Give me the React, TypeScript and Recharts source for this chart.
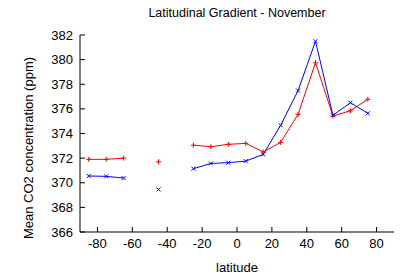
import React from 'react';
import { LineChart, Line, XAxis, YAxis } from 'recharts';

const latitudes = [-85, -75, -65, -55, -45, -35, -25, -15, -5, 5, 15, 25, 35, 45, 55, 65, 75];
const redSeries = [371.9, 371.9, 372.0, null, 371.7, null, 373.05, 372.93, 373.12, 373.2, 372.5, 373.28, 375.55, 379.75, 375.42, 375.85, 376.78];
const blueSeries = [370.55, 370.52, 370.38, null, 369.46, null, 371.14, 371.57, 371.63, 371.76, 372.3, 374.66, 377.48, 381.49, 375.48, 376.5, 375.64];
const xTicks = [-80, -60, -40, -20, 0, 20, 40, 60, 80];
const yTicks = [366, 368, 370, 372, 374, 376, 378, 380, 382];

const data = latitudes.map((lat, i) => ({ lat, red: redSeries[i], blue: blueSeries[i] }));

const FONT = '"Liberation Sans", Arial, sans-serif';

const PlusDot = (props: any) => {
  const { cx, cy, value } = props;
  if (value == null || cx == null || cy == null) return null;
  return (
    <path d={`M${cx - 2.5},${cy}H${cx + 2.5}M${cx},${cy - 2.5}V${cy + 2.5}`} stroke="#ff0000" strokeWidth={1} fill="none" />
  );
};

const CrossDot = (props: any) => {
  const { cx, cy, value } = props;
  if (value == null || cx == null || cy == null) return null;
  return (
    <path d={`M${cx - 2},${cy - 2}L${cx + 2},${cy + 2}M${cx - 2},${cy + 2}L${cx + 2},${cy - 2}`} stroke="#0000ff" strokeWidth={1} fill="none" />
  );
};

export default function App() {
  const tickStyle = { fill: '#000', fontSize: 13, fontFamily: FONT };
  return (
    <div style={{ position: 'absolute', left: 0, top: 0, width: 407, height: 279, background: '#fff', fontFamily: FONT }}>
      <LineChart width={407} height={279} data={data} margin={{ top: 35, right: 13, left: 30, bottom: 17 }}>
        <XAxis
          xAxisId="b"
          dataKey="lat"
          type="number"
          domain={[-90, 90]}
          ticks={xTicks}
          orientation="bottom"
          height={30}
          stroke="#000"
          tickSize={-5}
          tickMargin={12}
          tick={tickStyle}
          interval={0}
        />
        <XAxis
          xAxisId="t"
          dataKey="lat"
          type="number"
          domain={[-90, 90]}
          ticks={xTicks}
          orientation="top"
          height={0}
          stroke="#000"
          tickSize={-5}
          tick={false}
          interval={0}
        />
        <YAxis
          yAxisId="l"
          type="number"
          domain={[366, 382]}
          ticks={yTicks}
          orientation="left"
          width={50}
          stroke="#000"
          tickSize={-5}
          tickMargin={12}
          tick={tickStyle}
          interval={0}
        />
        <YAxis
          yAxisId="r"
          type="number"
          domain={[366, 382]}
          ticks={yTicks}
          orientation="right"
          width={0}
          stroke="#000"
          tickSize={-5}
          tick={false}
          interval={0}
        />
        <Line
          xAxisId="b"
          yAxisId="l"
          dataKey="red"
          stroke="#ff0000"
          strokeWidth={1}
          dot={<PlusDot />}
          activeDot={false}
          connectNulls={false}
          isAnimationActive={false}
        />
        <Line
          xAxisId="b"
          yAxisId="l"
          dataKey="blue"
          stroke="#0000ff"
          strokeWidth={1}
          dot={<CrossDot />}
          activeDot={false}
          connectNulls={false}
          isAnimationActive={false}
        />
      </LineChart>
      <div style={{ position: 'absolute', left: 0, width: 474, top: 5, textAlign: 'center', fontSize: 12.5, lineHeight: '16px', color: '#000' }}>
        Latitudinal Gradient - November
      </div>
      <div style={{ position: 'absolute', left: 0, width: 474, top: 259, textAlign: 'center', fontSize: 13, lineHeight: '18px', color: '#000' }}>
        latitude
      </div>
      <div
        style={{
          position: 'absolute',
          left: 29,
          top: 148,
          width: 300,
          marginLeft: -150,
          textAlign: 'center',
          fontSize: 13,
          lineHeight: '18px',
          marginTop: -9,
          transform: 'rotate(-90deg)',
          color: '#000',
        }}
      >
        Mean CO2 concentration (ppm)
      </div>
    </div>
  );
}
